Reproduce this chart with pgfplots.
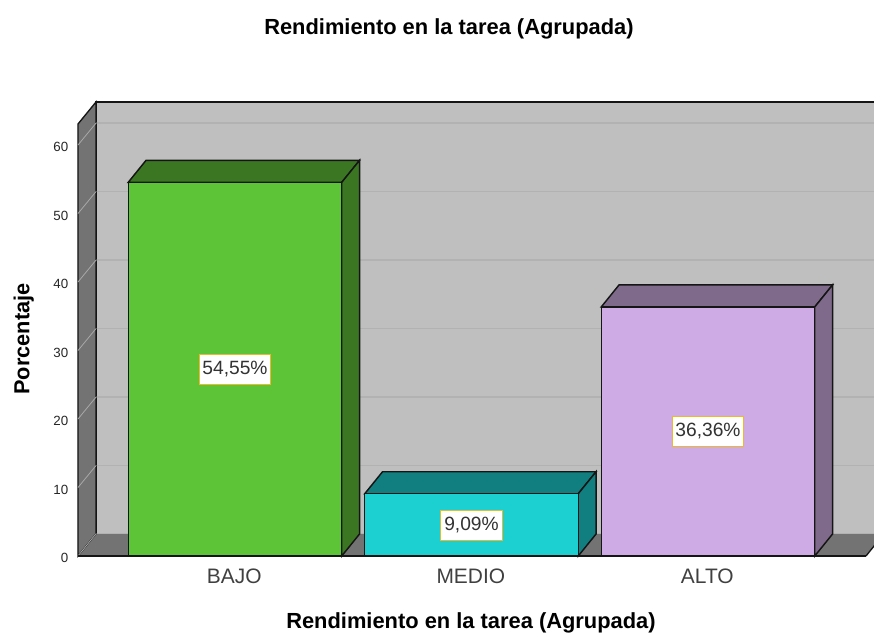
\documentclass[border=0pt]{standalone}
\usepackage{pgfplots}
\pgfplotsset{compat=1.18}
\usepackage{fontspec}
\setmainfont{Liberation Sans}
\definecolor{wall}{HTML}{BFBFBF}
\definecolor{wallside}{HTML}{737373}
\definecolor{wallgrid}{HTML}{B2B2B2}
\definecolor{sidegrid}{HTML}{A8A8A8}
\definecolor{edge}{HTML}{151515}
\definecolor{bajo}{HTML}{5EC437}
\definecolor{bajod}{HTML}{3B7722}
\definecolor{medio}{HTML}{1CCFD0}
\definecolor{mediod}{HTML}{117F80}
\definecolor{alto}{HTML}{CFABE5}
\definecolor{altod}{HTML}{7F6A8B}
\definecolor{lblborder}{HTML}{EDB92B}
\begin{document}
\begin{tikzpicture}
% 1px = 0.75pt, picture is 874x632 px
\path[use as bounding box] (0,0) rectangle (655.5pt,474pt);
\begin{axis}[
 at={(58.5pt,57pt)}, anchor=south west,
 scale only axis, width=597pt, height=340.5pt,
 xmin=-0.6638, xmax=2.7019, ymin=0, ymax=66.28,
 clip=false,
 axis line style={draw=none},
 major tick style={draw=none},
 xtick={0,1,2},
 xticklabels={BAJO,MEDIO,ALTO},
 ytick={0,10,20,30,40,50,60},
 x tick label style={font=\fontsize{15.7pt}{18pt}\selectfont, text=black!75, yshift=-6.5pt, xshift=-0.5pt},
 y tick label style={font=\fontsize{10pt}{12pt}\selectfont, text=black!85, xshift=-3.75pt, yshift=-1.6pt},
 /pgf/number format/assume math mode=true,
 title={\textbf{Rendimiento en la tarea (Agrupada)}},
 title style={at={(axis description cs:0.466,1.143)}, anchor=center, font=\fontsize{16.4pt}{18pt}\selectfont},
 xlabel={\textbf{Rendimiento en la tarea (Agrupada)}},
 xlabel style={at={(axis description cs:0.4937,-0.148)}, anchor=center, font=\fontsize{16.4pt}{18pt}\selectfont},
 ylabel={\textbf{Porcentaje}},
 ylabel style={at={(axis description cs:-0.068,0.478)}, anchor=center, font=\fontsize{16.3pt}{18pt}\selectfont},
 every node near coord/.style={anchor=center, fill=white, draw=lblborder, line width=0.7pt,
   inner xsep=2.5pt, inner ysep=0pt, minimum height=22.5pt, font=\fontsize{14.4pt}{16pt}\selectfont, text=black!80},
]
% back wall
\addplot[fill=wall, draw=edge, line width=1pt] coordinates {(-0.5877,3.25) (2.75,3.25) (2.75,66.28) (-0.5877,66.28)} --cycle;
% grid on the back wall
\addplot[wallgrid, line width=1pt] coordinates {(-0.5877,13.2) (2.75,13.2)};
\addplot[wallgrid, line width=1pt] coordinates {(-0.5877,23.2) (2.75,23.2)};
\addplot[wallgrid, line width=1pt] coordinates {(-0.5877,33.2) (2.75,33.2)};
\addplot[wallgrid, line width=1pt] coordinates {(-0.5877,43.2) (2.75,43.2)};
\addplot[wallgrid, line width=1pt] coordinates {(-0.5877,53.2) (2.75,53.2)};
\addplot[wallgrid, line width=1pt] coordinates {(-0.5877,63.2) (2.75,63.2)};
% floor and left wall
\addplot[fill=wallside, draw=none] coordinates {(-0.6638,0) (2.668,0) (2.744,3.25) (-0.5877,3.25)} --cycle;
\addplot[wallgrid, line width=0.8pt] coordinates {(-0.5877,3.25) (2.744,3.25)};
\addplot[fill=wallside, draw=edge, line width=1pt] coordinates {(-0.6638,0) (-0.6638,63.07) (-0.5877,66.28) (-0.5877,3.25)} --cycle;
\addplot[sidegrid, line width=0.6pt] coordinates {(-0.6638,0) (-0.5877,3.25)};
\addplot[sidegrid, line width=0.6pt] coordinates {(-0.6638,10) (-0.5877,13.2)};
\addplot[sidegrid, line width=0.6pt] coordinates {(-0.6638,20) (-0.5877,23.2)};
\addplot[sidegrid, line width=0.6pt] coordinates {(-0.6638,30) (-0.5877,33.2)};
\addplot[sidegrid, line width=0.6pt] coordinates {(-0.6638,40) (-0.5877,43.2)};
\addplot[sidegrid, line width=0.6pt] coordinates {(-0.6638,50) (-0.5877,53.2)};
\addplot[sidegrid, line width=0.6pt] coordinates {(-0.6638,60) (-0.5877,63.2)};
\addplot[edge, line width=1pt] coordinates {(2.668,0) (2.744,3.25)};
% BAJO
\addplot[fill=bajod, draw=edge, line width=1.1pt] coordinates {(-0.4514,54.55) (0.4514,54.55) (0.5266,57.76) (-0.3762,57.76)} --cycle;
\addplot[fill=bajod, draw=edge, line width=1.1pt] coordinates {(0.4514,0) (0.5266,3.21) (0.5266,57.76) (0.4514,54.55)} --cycle;
\addplot[ybar, bar shift=0pt, bar width=160.1pt, fill=bajo, draw=edge, line width=1.1pt] coordinates {(0,54.55)};
% MEDIO
\addplot[fill=mediod, draw=edge, line width=1.1pt] coordinates {(0.5486,9.09) (1.4514,9.09) (1.5266,12.30) (0.6238,12.30)} --cycle;
\addplot[fill=mediod, draw=edge, line width=1.1pt] coordinates {(1.4514,0) (1.5266,3.21) (1.5266,12.30) (1.4514,9.09)} --cycle;
\addplot[ybar, bar shift=0pt, bar width=160.1pt, fill=medio, draw=edge, line width=1.1pt] coordinates {(1,9.09)};
% ALTO
\addplot[fill=altod, draw=edge, line width=1.1pt] coordinates {(1.5486,36.36) (2.4514,36.36) (2.5266,39.57) (1.6238,39.57)} --cycle;
\addplot[fill=altod, draw=edge, line width=1.1pt] coordinates {(2.4514,0) (2.5266,3.21) (2.5266,39.57) (2.4514,36.36)} --cycle;
\addplot[ybar, bar shift=0pt, bar width=160.1pt, fill=alto, draw=edge, line width=1.1pt] coordinates {(2,36.36)};
% front edge of the floor
\addplot[edge, line width=1.2pt] coordinates {(-0.6638,0) (2.668,0)};
% value labels, in the middle of each bar
\addplot[only marks, mark=none, nodes near coords, point meta=explicit symbolic] table[x=x, y=y, meta=lbl] {
x y lbl
0 27.3 54,55\%
1 4.5 9,09\%
2 18.2 36,36\%
};
\end{axis}
\end{tikzpicture}
\end{document}
